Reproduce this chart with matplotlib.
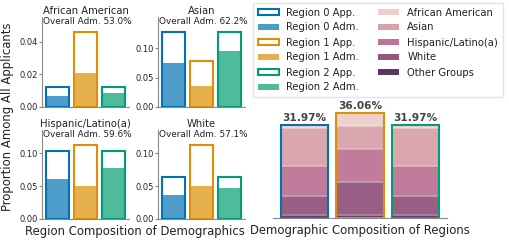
import numpy as np
import matplotlib
matplotlib.use("Agg")
import matplotlib.pyplot as plt
from matplotlib.patches import Patch

# demographic groups and regions
groups = ["African American", "Asian", "Hispanic/Latino(a)", "White"]
stack_groups = ["African American", "Asian", "Hispanic/Latino(a)", "White", "Other Groups"]
regions = ["Region 0", "Region 1", "Region 2"]
overall_adm = [53.0, 62.2, 59.6, 57.1]

# proportion among all applicants, per group (rows) and region (cols)
applied = [
    [0.012, 0.046, 0.012],
    [0.128, 0.078, 0.128],
    [0.104, 0.113, 0.104],
    [0.064, 0.113, 0.064],
]
admitted = [
    [0.0068, 0.021, 0.0085],
    [0.075, 0.035, 0.095],
    [0.061, 0.051, 0.077],
    [0.037, 0.051, 0.047],
]
other_applied = [0.0117, 0.0106, 0.0117]

region_colors = ["#0173b2", "#de8f05", "#029e73"]
stack_colors = ["#ebcfcb", "#d9a2ab", "#bd7595", "#94557f", "#5b3562"]
spine_col = "#888888"
text_col = "#222222"

W, H = 510, 241
fig = plt.figure(figsize=(W / 100, H / 100), dpi=100)


def px_axes(x0, y0, x1, y1):
    return fig.add_axes([x0 / W, 1 - y1 / H, (x1 - x0) / W, (y1 - y0) / H])


boxes = [(42, 17, 129, 107), (158, 17, 245, 107), (42, 130, 129, 219), (158, 130, 245, 219)]
x = np.arange(len(regions))
for i, g in enumerate(groups):
    ax = px_axes(*boxes[i])
    app = np.array(applied[i])
    adm = np.array(admitted[i])
    ax.bar(x, adm, width=0.82, color=region_colors, alpha=0.7, linewidth=0)
    ax.bar(x, app, width=0.82, facecolor="none", edgecolor=region_colors, linewidth=1.5)
    ax.set_ylim(0, app.max() * 1.2)
    ax.set_xticks([])
    for s in ["top", "right"]:
        ax.spines[s].set_visible(False)
    for s in ["left", "bottom"]:
        ax.spines[s].set_color(spine_col)
    ax.tick_params(axis="y", labelsize=6, length=2, pad=1, colors=spine_col, labelcolor=text_col)
    if i == 0:
        ax.set_yticks([0, 0.02, 0.04])
    else:
        ax.set_yticks([0, 0.05, 0.10])
    ax.set_title(g, fontsize=7.2, pad=2.5, color=text_col)
    ax.text(0.01, 1.0, "Overall Adm. %.1f%%" % overall_adm[i], transform=ax.transAxes,
            fontsize=6.4, va="top", ha="left", color=text_col)

fig.text(135 / W, 1 - 231 / H, "Region Composition of Demographics", ha="center", va="center",
         fontsize=8.4, color=text_col)
fig.text(8 / W, 1 - 117 / H, "Proportion Among All Applicants", ha="center", va="center",
         rotation=90, fontsize=8.4, color=text_col)

# right: stacked composition of regions
axr = px_axes(273, 5, 447, 218)
stack_vals = [np.array(applied[k]) * 100 for k in range(len(groups))] + [np.array(other_applied) * 100]
order = [4, 3, 2, 1, 0]  # bottom to top
bottom = np.zeros(len(regions))
for k in order:
    axr.bar(x, stack_vals[k], bottom=bottom, width=0.85, color=stack_colors[k], alpha=0.95,
            edgecolor="white", linewidth=0.3)
    bottom += stack_vals[k]
axr.bar(x, bottom, width=0.85, facecolor="none", edgecolor=region_colors, linewidth=1.5)
for j in range(len(regions)):
    axr.text(x[j], bottom[j] + 0.5, "%.2f%%" % bottom[j], ha="center", va="bottom",
             fontsize=7.6, fontweight="bold", color="#444444")
axr.set_ylim(0, 73)
axr.set_xticks([])
axr.set_yticks([])
for s in ["top", "right", "left"]:
    axr.spines[s].set_visible(False)
axr.spines["bottom"].set_color(spine_col)
axr.set_xlabel("Demographic Composition of Regions", fontsize=8.4, color=text_col, labelpad=4)

handles = []
for r, c in zip(regions, region_colors):
    handles.append(Patch(facecolor="white", edgecolor=c, linewidth=1.5, label=r + " App."))
    handles.append(Patch(facecolor=c, alpha=0.7, linewidth=0, label=r + " Adm."))
for g, c in zip(stack_groups, stack_colors):
    handles.append(Patch(facecolor=c, linewidth=0, label=g))
fig.legend(handles=handles, ncol=2, fontsize=7.2, loc="upper left",
           bbox_to_anchor=(253 / W, 1 - 3 / H), borderaxespad=0, frameon=True, handlelength=2.1,
           handleheight=0.6, labelspacing=0.5, columnspacing=1.9, borderpad=0.45,
           handletextpad=0.8, edgecolor="#dddddd", fancybox=False, labelcolor=text_col)

fig.savefig("out.png", dpi=100)
